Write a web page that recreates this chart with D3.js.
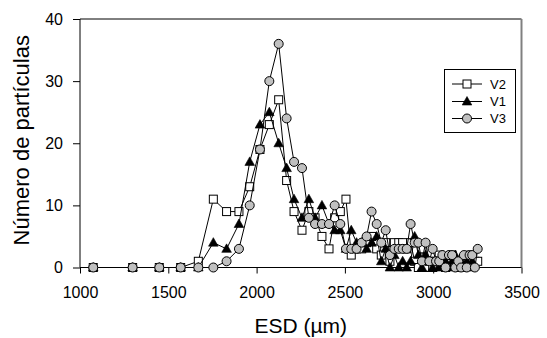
<!DOCTYPE html>
<html>
<head>
<meta charset="utf-8">
<script src="https://cdn.jsdelivr.net/npm/d3@7"></script>
<style>
  html, body { margin: 0; padding: 0; background: #fff; }
  svg { display: block; font-family: Arial, "Liberation Sans", sans-serif; }
</style>
</head>
<body>
<svg id="chart" width="547" height="338"></svg>
<script>
// ---- data ----
const esd = [1075, 1298, 1449, 1570, 1670, 1755, 1830, 1900, 1961, 2019,
  2072, 2125, 2170, 2212, 2257, 2296, 2331, 2370, 2410, 2442,
  2474, 2506, 2536, 2566, 2595, 2623, 2651, 2680, 2706, 2731,
  2755, 2780, 2805, 2827, 2850, 2872, 2895, 2916, 2936, 2957,
  2978, 2997, 3016, 3034, 3052, 3070, 3089, 3107, 3125, 3142,
  3158, 3174, 3190, 3206, 3221, 3236, 3252];

const v2 = [0, 0, 0, 0, 1, 11, 9, 9, 13, 19,
  23, 27, 14, 9, 6, 9, 8, 5, 3, 8,
  9, 11, 2, 3, 3, 4, 5, 3, 2, 4,
  1, 4, 4, 4, 3, 4, 1, 0, 3, 0,
  1, 0, 1, 2, 1, 0, 1, 2, 1, 0,
  1, 0, 1, 2, 1, 1, 1];

const v1 = [0, 0, 0, 0, 0, 4, 3, 7, 17, 23,
  25, 20, 16, 11, 8, 11, 8, 10, 7, 6,
  6, 3, 6, 4, 4, 3, 4, 5, 1, 3,
  0, 2, 0, 1, 0, 1, 5, 2, 0, 2,
  1, 0, 1, 0, 2, 1, 0, 1, 2, 0,
  1, 0, 1, 0, 1, null, null];

const v3 = [0, 0, 0, 0, 0, 0, 1, 3, 10, 19,
  30, 36, 24, 17, 16, 8, 7, 7, 7, 10,
  7, 3, 3, 3, 4, 5, 9, 7, 4, 6,
  2, 3, 3, 3, 3, 7, 4, 4, 1, 4,
  1, 3, 1, 1, 2, 0, 2, 2, 0, 1,
  0, 2, 0, 2, 2, 0, 3];

const seriesNames = ["V2", "V1", "V3"];
const xTicks = [1000, 1500, 2000, 2500, 3000, 3500];
const yTicks = [0, 10, 20, 30, 40];
const xTitle = "ESD (µm)";
const yTitle = "Número de partículas";

// ---- layout ----
const svg = d3.select("#chart");
const L = 80, R = 521.5, T = 19, B = 267.5;
const x = d3.scaleLinear().domain([1000, 3500]).range([L, R]);
const y = d3.scaleLinear().domain([0, 40]).range([B, T]);

// frame top & right
svg.append("line").attr("x1", L).attr("x2", R).attr("y1", T).attr("y2", T)
  .attr("stroke", "#000").attr("stroke-width", 1);
svg.append("line").attr("x1", R).attr("x2", R).attr("y1", T).attr("y2", B)
  .attr("stroke", "#808080").attr("stroke-width", 2);

// axes
const xAxis = svg.append("g").attr("transform", `translate(0,${B})`)
  .call(d3.axisBottom(x).tickValues(xTicks).tickSize(6).tickPadding(13).tickFormat(d3.format("d")));
const yAxis = svg.append("g").attr("transform", `translate(${L},0)`)
  .call(d3.axisLeft(y).tickValues(yTicks).tickSize(7).tickPadding(10).tickFormat(d3.format("d")));
[xAxis, yAxis].forEach(g => {
  g.select(".domain").attr("stroke", "#000").attr("stroke-width", 1);
  g.selectAll(".tick line").attr("stroke", "#000");
  g.selectAll(".tick text").attr("fill", "#000").style("font-size", "16px")
    .style("font-family", "Arial, 'Liberation Sans', sans-serif");
});
xAxis.select(".domain").attr("d", `M${L},0H${R}`);
yAxis.select(".domain").attr("d", `M0,${B}V${T}`);

// titles
svg.append("text").attr("x", (L + R) / 2).attr("y", 333).attr("text-anchor", "middle")
  .style("font-size", "21px").text(xTitle);
svg.append("text").attr("transform", `translate(29,${(T + B) / 2 - 3}) rotate(-90)`)
  .attr("text-anchor", "middle").style("font-size", "22px").text(yTitle);

// marker drawers
function drawMarker(g, type, cx, cy) {
  if (type === "square") {
    g.append("rect").attr("x", cx - 4).attr("y", cy - 4).attr("width", 8).attr("height", 8)
      .attr("fill", "#fff").attr("stroke", "#000").attr("stroke-width", 1);
  } else if (type === "triangle") {
    g.append("path").attr("d", `M${cx},${cy - 5}L${cx + 4.8},${cy + 3.5}L${cx - 4.8},${cy + 3.5}Z`)
      .attr("fill", "#000").attr("stroke", "#000").attr("stroke-width", 0.6);
  } else {
    g.append("circle").attr("cx", cx).attr("cy", cy).attr("r", 4.5)
      .attr("fill", "#c0c0c0").attr("stroke", "#000").attr("stroke-width", 1);
  }
}

const series = [
  { name: seriesNames[0], vals: v2, type: "square" },
  { name: seriesNames[1], vals: v1, type: "triangle" },
  { name: seriesNames[2], vals: v3, type: "circle" }
];

const line = d3.line().defined(d => d[1] !== null).x(d => x(d[0])).y(d => y(d[1]));

series.forEach(s => {
  const pts = esd.map((e, i) => [e, s.vals[i]]);
  const g = svg.append("g");
  g.append("path").attr("d", line(pts)).attr("fill", "none").attr("stroke", "#000").attr("stroke-width", 1);
  pts.filter(p => p[1] !== null).forEach(p => drawMarker(g, s.type, x(p[0]), y(p[1])));
});

// legend
const lg = svg.append("g");
lg.append("rect").attr("x", 444.5).attr("y", 69.5).attr("width", 71).attr("height", 63)
  .attr("fill", "#fff").attr("stroke", "#000").attr("stroke-width", 1);
const rowsY = [84, 101.5, 118.5];
series.forEach((s, i) => {
  const ry = rowsY[i];
  lg.append("line").attr("x1", 452).attr("x2", 482).attr("y1", ry).attr("y2", ry)
    .attr("stroke", "#000").attr("stroke-width", 1);
  drawMarker(lg, s.type, 467, ry);
  lg.append("text").attr("x", 490).attr("y", ry + 4.5).style("font-size", "13px").text(s.name);
});
</script>
</body>
</html>
